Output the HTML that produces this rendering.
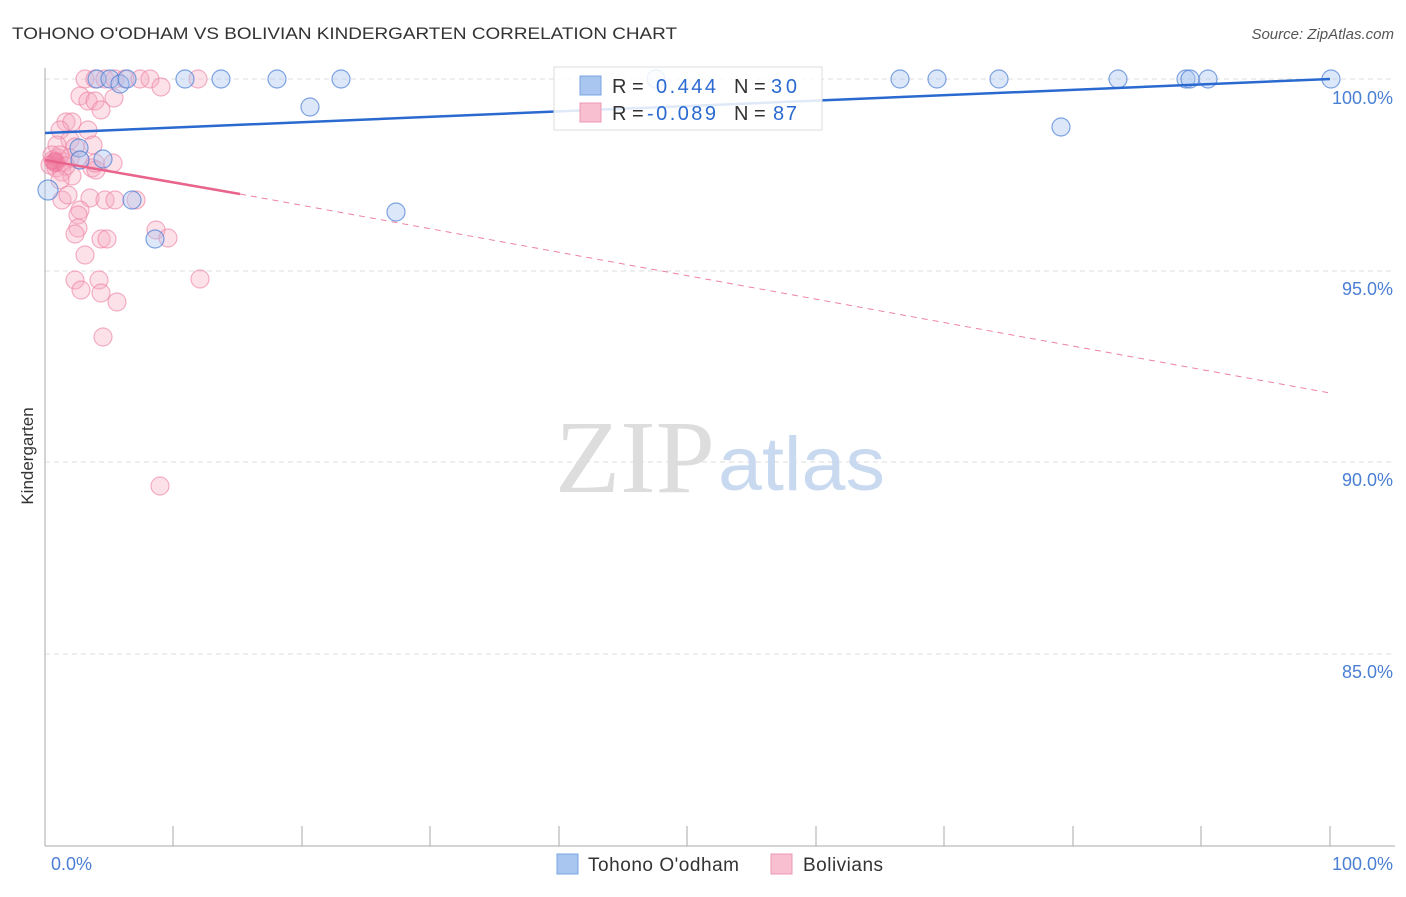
<!DOCTYPE html>
<html><head><meta charset="utf-8"><style>
body{margin:0;background:#fff;font-family:"Liberation Sans",sans-serif;}
</style></head><body>
<svg width="1406" height="892" xmlns="http://www.w3.org/2000/svg" font-family="Liberation Sans, sans-serif">
<text x="12" y="39" font-size="17" fill="#333" textLength="665" lengthAdjust="spacingAndGlyphs">TOHONO O'ODHAM VS BOLIVIAN KINDERGARTEN CORRELATION CHART</text>
<text x="1394" y="39" font-size="15" fill="#555" font-style="italic" text-anchor="end">Source: ZipAtlas.com</text>
<g stroke="#ddd" stroke-dasharray="5,4">
<line x1="45" y1="79" x2="1395" y2="79"/><line x1="45" y1="271" x2="1395" y2="271"/>
<line x1="45" y1="462" x2="1395" y2="462"/><line x1="45" y1="654" x2="1395" y2="654"/>
</g>
<line x1="45" y1="68" x2="45" y2="846" stroke="#aaa"/>
<line x1="45" y1="846" x2="1395" y2="846" stroke="#aaa"/>
<g stroke="#aaa">
<line x1="173" y1="826" x2="173" y2="846"/><line x1="302" y1="826" x2="302" y2="846"/><line x1="430" y1="826" x2="430" y2="846"/><line x1="559" y1="826" x2="559" y2="846"/><line x1="687" y1="826" x2="687" y2="846"/><line x1="816" y1="826" x2="816" y2="846"/><line x1="944" y1="826" x2="944" y2="846"/><line x1="1073" y1="826" x2="1073" y2="846"/><line x1="1201" y1="826" x2="1201" y2="846"/><line x1="1330" y1="826" x2="1330" y2="846"/>
</g>
<g font-size="18" fill="#4a7fd4" text-anchor="end">
<text x="1393" y="104">100.0%</text><text x="1393" y="295">95.0%</text><text x="1393" y="486">90.0%</text><text x="1393" y="678">85.0%</text>
<text x="92" y="870">0.0%</text><text x="1393" y="870">100.0%</text>
</g>
<text transform="translate(33,456) rotate(-90)" font-size="17" fill="#333" text-anchor="middle">Kindergarten</text>
<text x="555" y="492" font-size="104" fill="#ddd" font-family="Liberation Serif, serif" textLength="160" lengthAdjust="spacingAndGlyphs">ZIP</text>
<text x="718" y="490" font-size="76" fill="#c9daf0" textLength="167" lengthAdjust="spacingAndGlyphs">atlas</text>
<g fill="#f6a8c0" fill-opacity="0.35" stroke="#ec7fa2" stroke-opacity="0.6" stroke-width="1.2">
<circle cx="85" cy="79" r="9"/><circle cx="95" cy="79" r="9"/><circle cx="105" cy="79" r="9"/><circle cx="115" cy="79" r="9"/><circle cx="125" cy="79" r="9"/><circle cx="140" cy="79" r="9"/><circle cx="150" cy="79" r="9"/><circle cx="198" cy="79" r="9"/><circle cx="161" cy="87" r="9"/>
<circle cx="80" cy="96" r="9"/><circle cx="88" cy="101" r="9"/><circle cx="95" cy="101" r="9"/><circle cx="114" cy="98" r="9"/><circle cx="101" cy="110" r="9"/>
<circle cx="66" cy="122" r="9"/><circle cx="72" cy="122" r="9"/><circle cx="60" cy="130" r="9"/><circle cx="88" cy="130" r="9"/><circle cx="70" cy="140" r="9"/><circle cx="57" cy="145" r="9"/><circle cx="75" cy="147" r="9"/><circle cx="93" cy="145" r="9"/>
<circle cx="52" cy="155" r="9"/><circle cx="58" cy="158" r="9"/><circle cx="64" cy="162" r="9"/><circle cx="70" cy="158" r="9"/><circle cx="80" cy="160" r="9"/><circle cx="50" cy="165" r="9"/><circle cx="56" cy="168" r="9"/><circle cx="62" cy="172" r="9"/><circle cx="72" cy="176" r="9"/><circle cx="53" cy="160" r="9"/><circle cx="60" cy="155" r="9"/><circle cx="66" cy="166" r="9"/><circle cx="92" cy="168" r="9"/><circle cx="96" cy="170" r="9"/><circle cx="113" cy="163" r="9"/><circle cx="95" cy="163" r="9"/>
<circle cx="60" cy="180" r="9"/><circle cx="62" cy="200" r="9"/><circle cx="68" cy="195" r="9"/><circle cx="90" cy="198" r="9"/><circle cx="105" cy="200" r="9"/><circle cx="115" cy="200" r="9"/><circle cx="136" cy="200" r="9"/>
<circle cx="80" cy="210" r="9"/><circle cx="78" cy="215" r="9"/><circle cx="78" cy="228" r="9"/><circle cx="75" cy="234" r="9"/><circle cx="156" cy="230" r="9"/><circle cx="101" cy="239" r="9"/><circle cx="107" cy="239" r="9"/><circle cx="168" cy="238" r="9"/><circle cx="85" cy="255" r="9"/>
<circle cx="75" cy="280" r="9"/><circle cx="81" cy="290" r="9"/><circle cx="99" cy="280" r="9"/><circle cx="101" cy="293" r="9"/><circle cx="117" cy="302" r="9"/><circle cx="200" cy="279" r="9"/><circle cx="103" cy="337" r="9"/><circle cx="160" cy="486" r="9"/>
</g>
<circle cx="55" cy="162" r="10" fill="#ec6a94" fill-opacity="0.6"/>
<g fill="#a8c6f0" fill-opacity="0.4" stroke="#4a7fd4" stroke-opacity="0.7" stroke-width="1.2">
<circle cx="97" cy="79" r="9"/><circle cx="110" cy="79" r="9"/><circle cx="120" cy="84" r="9"/><circle cx="127" cy="79" r="9"/><circle cx="185" cy="79" r="9"/><circle cx="221" cy="79" r="9"/><circle cx="277" cy="79" r="9"/><circle cx="341" cy="79" r="9"/><circle cx="310" cy="107" r="9"/><circle cx="396" cy="212" r="9"/><circle cx="656" cy="79" r="9"/><circle cx="900" cy="79" r="9"/><circle cx="937" cy="79" r="9"/><circle cx="999" cy="79" r="9"/><circle cx="1118" cy="79" r="9"/><circle cx="1186" cy="79" r="9"/><circle cx="1190" cy="79" r="9"/><circle cx="1208" cy="79" r="9"/><circle cx="1331" cy="79" r="9"/><circle cx="1061" cy="127" r="9"/><circle cx="79" cy="148" r="9"/><circle cx="103" cy="159" r="9"/><circle cx="132" cy="200" r="9"/><circle cx="155" cy="239" r="9"/><circle cx="48" cy="190" r="10"/><circle cx="80" cy="160" r="9"/>
</g>
<line x1="45" y1="133" x2="1330" y2="79" stroke="#2a6ad0" stroke-width="2.5"/>
<line x1="45" y1="160" x2="240" y2="194" stroke="#e8648c" stroke-width="2.5"/>
<line x1="240" y1="194" x2="1330" y2="393" stroke="#e8648c" stroke-width="1" stroke-dasharray="6,5" opacity="0.8"/>
<rect x="554" y="67" width="268" height="63" fill="#fff" fill-opacity="0.85" stroke="#ddd"/>
<rect x="580" y="76" width="21" height="19" fill="#a8c6f0" stroke="#7aa4e0"/>
<rect x="580" y="103" width="21" height="19" fill="#f8bfd0" stroke="#ec9ab4"/>
<g font-size="20"><text x="612" y="93" fill="#333">R =</text><text x="656" y="93" fill="#2a6ad0" textLength="60">0.444</text><text x="734" y="93" fill="#333">N =</text><text x="771" y="93" fill="#2a6ad0" textLength="26">30</text>
<text x="612" y="120" fill="#333">R =</text><text x="647" y="120" fill="#2a6ad0" textLength="69">-0.089</text><text x="734" y="120" fill="#333">N =</text><text x="773" y="120" fill="#2a6ad0" textLength="24">87</text></g>
<rect x="557" y="854" width="21" height="20" fill="#a8c6f0" stroke="#7aa4e0"/>
<text x="588" y="871" font-size="19" fill="#333" textLength="151">Tohono O'odham</text>
<rect x="771" y="854" width="21" height="20" fill="#f8bfd0" stroke="#ec9ab4"/>
<text x="803" y="871" font-size="19" fill="#333" textLength="80">Bolivians</text>
</svg>
</body></html>
